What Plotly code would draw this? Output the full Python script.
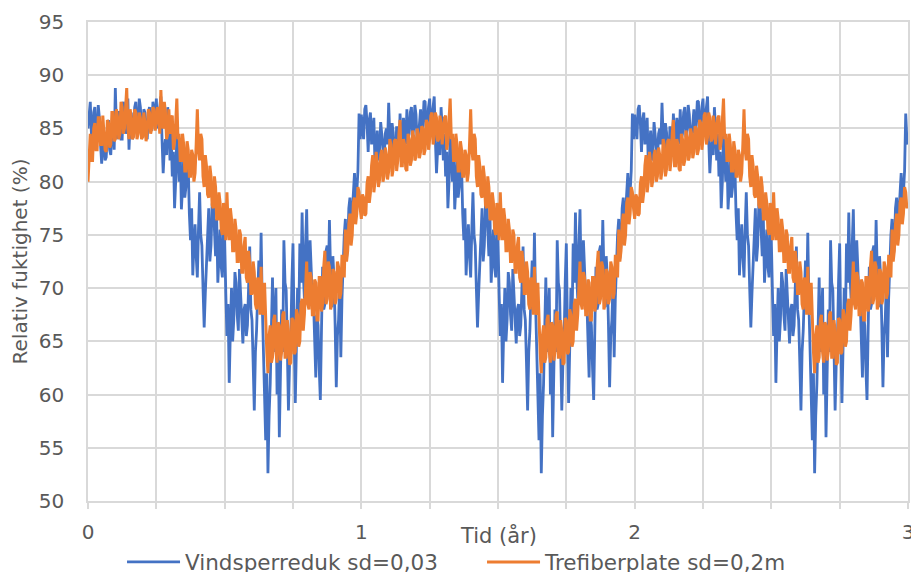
import numpy as np
import plotly.graph_objects as go

# Relative humidity (%) behind two wind-barrier products, 240 samples per year
SAMPLES_PER_YEAR = 240

vind_year1 = [
    85.0, 86.8, 87.5, 84.5, 84.0, 86.5, 87.0, 84.0, 84.5, 87.2, 86.0, 83.5, 81.7, 84.0, 83.5, 82.0, 82.3, 84.5, 85.8, 83.0,
    82.5, 85.0, 85.0, 83.0, 88.8, 85.0, 84.0, 86.5, 86.5, 84.0, 84.0, 87.5, 87.0, 84.5, 85.0, 87.8, 83.0, 85.5, 86.5, 84.0,
    84.5, 87.0, 87.5, 85.0, 85.0, 87.8, 87.0, 84.8, 84.5, 86.8, 86.5, 84.2, 84.0, 86.5, 87.0, 85.0, 84.8, 87.5, 86.8, 85.2,
    87.8, 85.0, 86.0, 87.4, 88.0, 84.0, 80.8, 83.0, 84.0, 82.5, 87.0, 85.0, 82.0, 84.5, 80.5, 82.8, 77.5, 80.0, 84.5, 82.5,
    80.0, 83.0, 77.4, 79.5, 82.2, 78.5, 79.5, 82.0, 81.5, 77.0, 74.5, 77.5, 71.2, 74.0, 76.0, 73.0, 71.0, 75.5, 79.0, 75.0,
    74.0, 70.0, 66.3, 69.5, 72.0, 75.5, 77.5, 72.5, 74.0, 77.8, 79.0, 75.5, 73.0, 76.5, 70.5, 73.0, 75.5, 72.0, 71.0, 76.0,
    74.5, 69.5, 65.5, 68.5, 61.1, 66.0, 70.0, 65.0, 67.0, 71.5, 70.5, 67.5, 66.0, 71.8, 69.5, 66.5, 64.8, 68.0, 68.5, 65.5,
    66.5, 70.0, 73.9, 68.0, 67.0, 63.0, 58.5, 64.0, 66.0, 69.5, 72.6, 68.5, 75.2, 68.5, 64.0, 60.0, 55.7, 62.0, 52.6, 58.0,
    61.0, 66.0, 71.0, 64.0, 66.5, 70.0, 60.0, 65.0, 56.0, 62.5, 68.0, 64.0, 74.5, 70.5, 69.8, 64.5, 58.5, 63.0, 65.0, 70.5,
    74.2, 66.0, 59.2, 64.5, 70.0, 66.5, 74.2, 70.5, 77.1, 71.5, 69.0, 74.0, 77.4, 71.0, 68.6, 74.5, 72.3, 69.0, 68.8, 65.0,
    61.6, 67.5, 66.5, 62.5, 59.5, 66.0, 72.0, 68.0, 68.5, 73.5, 74.0, 70.5, 76.4, 71.5, 68.2, 73.0, 71.0, 66.5, 60.7, 65.5,
    67.0, 70.5, 63.5, 69.0, 72.5, 75.0, 76.5, 72.8, 74.0, 77.5, 78.5, 75.5, 77.0, 79.5, 80.8, 78.0, 79.0, 81.0, 86.4, 84.0,
]
vind_year2 = [
    86.3, 85.0, 84.0, 86.8, 87.2, 85.5, 82.8, 85.8, 86.5, 83.5, 84.5, 86.0, 81.4, 83.2, 84.8, 82.0, 82.5, 85.6, 84.2, 83.0,
    82.0, 84.5, 85.0, 83.5, 87.4, 84.2, 83.0, 85.5, 84.6, 82.0, 82.3, 85.2, 84.0, 82.8, 86.4, 84.0, 83.2, 86.0, 84.8, 83.5,
    86.8, 84.0, 84.5, 86.5, 87.0, 84.2, 85.0, 87.2, 86.3, 83.8, 84.0, 86.0, 86.8, 84.5, 85.2, 87.6, 87.5, 84.8, 85.5, 87.0,
    87.8, 85.0, 86.0, 87.4, 88.0, 84.0, 80.8, 83.0, 84.0, 82.5, 87.0, 85.0, 82.0, 84.5, 80.5, 82.8, 77.5, 80.0, 84.5, 82.5,
    80.0, 83.0, 77.4, 79.5, 82.2, 78.5, 79.5, 82.0, 81.5, 77.0, 74.5, 77.5, 71.2, 74.0, 76.0, 73.0, 71.0, 75.5, 79.0, 75.0,
    74.0, 70.0, 66.3, 69.5, 72.0, 75.5, 77.5, 72.5, 74.0, 77.8, 79.0, 75.5, 73.0, 76.5, 70.5, 73.0, 75.5, 72.0, 71.0, 76.0,
    74.5, 69.5, 65.5, 68.5, 61.1, 66.0, 70.0, 65.0, 67.0, 71.5, 70.5, 67.5, 66.0, 71.8, 69.5, 66.5, 64.8, 68.0, 68.5, 65.5,
    66.5, 70.0, 73.9, 68.0, 67.0, 63.0, 58.5, 64.0, 66.0, 69.5, 72.6, 68.5, 75.2, 68.5, 64.0, 60.0, 55.7, 62.0, 52.6, 58.0,
    61.0, 66.0, 71.0, 64.0, 66.5, 70.0, 60.0, 65.0, 56.0, 62.5, 68.0, 64.0, 74.5, 70.5, 69.8, 64.5, 58.5, 63.0, 65.0, 70.5,
    74.2, 66.0, 59.2, 64.5, 70.0, 66.5, 74.2, 70.5, 77.1, 71.5, 69.0, 74.0, 77.4, 71.0, 68.6, 74.5, 72.3, 69.0, 68.8, 65.0,
    61.6, 67.5, 66.5, 62.5, 59.5, 66.0, 72.0, 68.0, 68.5, 73.5, 74.0, 70.5, 76.4, 71.5, 68.2, 73.0, 71.0, 66.5, 60.7, 65.5,
    67.0, 70.5, 63.5, 69.0, 72.5, 75.0, 76.5, 72.8, 74.0, 77.5, 78.5, 75.5, 77.0, 79.5, 80.8, 78.0, 79.0, 81.0, 86.4, 84.0,
]
vind_year3 = [
    86.3, 85.0, 84.0, 86.8, 87.2, 85.5, 82.8, 85.8, 86.5, 83.5, 84.5, 86.0, 81.4, 83.2, 84.8, 82.0, 82.5, 85.6, 84.2, 83.0,
    82.0, 84.5, 85.0, 83.5, 87.4, 84.2, 83.0, 85.5, 84.6, 82.0, 82.3, 85.2, 84.0, 82.8, 86.4, 84.0, 83.2, 86.0, 84.8, 83.5,
    86.8, 84.0, 84.5, 86.5, 87.0, 84.2, 85.0, 87.2, 86.3, 83.8, 84.0, 86.0, 86.8, 84.5, 85.2, 87.6, 87.5, 84.8, 85.5, 87.0,
    87.8, 85.0, 86.0, 87.4, 88.0, 84.0, 80.8, 83.0, 84.0, 82.5, 87.0, 85.0, 82.0, 84.5, 80.5, 82.8, 77.5, 80.0, 84.5, 82.5,
    80.0, 83.0, 77.4, 79.5, 82.2, 78.5, 79.5, 82.0, 81.5, 77.0, 74.5, 77.5, 71.2, 74.0, 76.0, 73.0, 71.0, 75.5, 79.0, 75.0,
    74.0, 70.0, 66.3, 69.5, 72.0, 75.5, 77.5, 72.5, 74.0, 77.8, 79.0, 75.5, 73.0, 76.5, 70.5, 73.0, 75.5, 72.0, 71.0, 76.0,
    74.5, 69.5, 65.5, 68.5, 61.1, 66.0, 70.0, 65.0, 67.0, 71.5, 70.5, 67.5, 66.0, 71.8, 69.5, 66.5, 64.8, 68.0, 68.5, 65.5,
    66.5, 70.0, 73.9, 68.0, 67.0, 63.0, 58.5, 64.0, 66.0, 69.5, 72.6, 68.5, 75.2, 68.5, 64.0, 60.0, 55.7, 62.0, 52.6, 58.0,
    61.0, 66.0, 71.0, 64.0, 66.5, 70.0, 60.0, 65.0, 56.0, 62.5, 68.0, 64.0, 74.5, 70.5, 69.8, 64.5, 58.5, 63.0, 65.0, 70.5,
    74.2, 66.0, 59.2, 64.5, 70.0, 66.5, 74.2, 70.5, 77.1, 71.5, 69.0, 74.0, 77.4, 71.0, 68.6, 74.5, 72.3, 69.0, 68.8, 65.0,
    61.6, 67.5, 66.5, 62.5, 59.5, 66.0, 72.0, 68.0, 68.5, 73.5, 74.0, 70.5, 76.4, 71.5, 68.2, 73.0, 71.0, 66.5, 60.7, 65.5,
    67.0, 70.5, 63.5, 69.0, 72.5, 75.0, 76.5, 72.8, 74.0, 77.5, 78.5, 75.5, 77.0, 79.5, 80.8, 78.0, 79.0, 81.0, 86.4, 84.0,
]
vind_final = [83.5]

tref_year1 = [
    80.0, 83.0, 84.5, 82.0, 82.0, 85.0, 85.5, 83.0, 83.0, 86.0, 86.0, 83.5, 83.5, 86.2, 85.0, 83.0, 82.8, 85.8, 85.5, 83.2,
    83.5, 86.5, 86.5, 83.8, 84.0, 86.8, 86.0, 84.0, 84.5, 87.5, 87.0, 84.5, 85.0, 87.0, 88.8, 85.0, 84.0, 86.8, 86.0, 84.0,
    84.2, 86.8, 86.5, 84.0, 84.5, 86.5, 86.0, 84.0, 84.2, 86.5, 85.5, 83.8, 84.8, 86.8, 86.5, 84.5, 85.0, 87.0, 86.8, 84.8,
    85.5, 87.0, 86.5, 84.5, 88.6, 85.5, 85.0, 87.5, 86.5, 84.0, 84.5, 86.8, 84.5, 86.0, 86.2, 83.0, 83.8, 85.5, 87.8, 84.0,
    84.5, 82.0, 82.0, 84.5, 83.5, 81.0, 81.0, 83.8, 83.0, 80.5, 80.5, 83.0, 82.5, 80.0, 80.8, 83.5, 86.8, 83.0, 82.0, 84.5,
    84.0, 80.5, 79.5, 82.5, 81.5, 78.8, 78.5, 81.5, 80.5, 77.8, 77.5, 80.5, 79.5, 76.5, 76.5, 79.0, 78.0, 75.5, 75.0, 78.0,
    77.0, 74.5, 79.0, 76.0, 74.5, 77.5, 76.5, 73.5, 73.5, 76.5, 75.5, 72.5, 72.5, 75.5, 75.0, 71.5, 71.5, 74.0, 74.8, 71.0,
    70.5, 73.5, 72.5, 69.5, 69.5, 72.5, 71.5, 68.5, 68.0, 71.0, 70.5, 67.5, 72.0, 68.0, 67.5, 70.5, 66.0, 64.0, 62.0, 65.5,
    66.5, 63.0, 63.5, 67.0, 67.5, 64.0, 63.0, 66.8, 66.5, 63.2, 64.0, 67.5, 67.8, 63.5, 63.5, 67.0, 66.0, 62.8, 63.0, 67.2,
    67.0, 63.8, 64.0, 68.0, 67.5, 64.5, 65.0, 68.5, 69.0, 66.0, 67.5, 70.5, 72.5, 68.5, 68.0, 71.5, 71.0, 67.5, 67.5, 70.8,
    70.5, 67.0, 67.0, 71.0, 71.0, 67.8, 68.5, 72.0, 73.5, 68.5, 69.0, 72.5, 72.0, 68.0, 68.5, 71.8, 71.5, 68.5, 69.0, 72.5,
    72.0, 69.0, 69.5, 73.0, 73.0, 71.0, 75.5, 72.5, 73.5, 76.0, 77.0, 74.0, 75.0, 78.0, 78.5, 76.0, 77.0, 79.5, 79.0, 77.5,
]
tref_year2 = [
    76.5, 78.8, 78.5, 76.8, 77.0, 79.8, 80.5, 78.0, 79.0, 81.5, 82.5, 79.0, 80.0, 82.8, 81.8, 79.5, 80.2, 82.5, 83.0, 80.0,
    80.5, 83.2, 82.5, 80.2, 81.0, 84.0, 83.5, 80.5, 81.2, 83.8, 84.0, 81.0, 82.0, 84.5, 85.8, 81.5, 81.5, 84.0, 83.5, 81.2,
    81.0, 84.5, 84.0, 81.5, 82.0, 84.8, 84.2, 82.0, 82.3, 85.0, 84.5, 82.2, 82.8, 85.2, 85.0, 82.5, 83.0, 85.8, 85.5, 83.0,
    84.0, 86.2, 86.5, 83.5, 84.2, 86.5, 86.0, 83.8, 84.0, 86.2, 85.5, 83.5, 84.5, 86.0, 86.2, 83.0, 83.8, 85.5, 87.8, 84.0,
    84.5, 82.0, 82.0, 84.5, 83.5, 81.0, 81.0, 83.8, 83.0, 80.5, 80.5, 83.0, 82.5, 80.0, 80.8, 83.5, 86.8, 83.0, 82.0, 84.5,
    84.0, 80.5, 79.5, 82.5, 81.5, 78.8, 78.5, 81.5, 80.5, 77.8, 77.5, 80.5, 79.5, 76.5, 76.5, 79.0, 78.0, 75.5, 75.0, 78.0,
    77.0, 74.5, 79.0, 76.0, 74.5, 77.5, 76.5, 73.5, 73.5, 76.5, 75.5, 72.5, 72.5, 75.5, 75.0, 71.5, 71.5, 74.0, 74.8, 71.0,
    70.5, 73.5, 72.5, 69.5, 69.5, 72.5, 71.5, 68.5, 68.0, 71.0, 70.5, 67.5, 72.0, 68.0, 67.5, 70.5, 66.0, 64.0, 62.0, 65.5,
    66.5, 63.0, 63.5, 67.0, 67.5, 64.0, 63.0, 66.8, 66.5, 63.2, 64.0, 67.5, 67.8, 63.5, 63.5, 67.0, 66.0, 62.8, 63.0, 67.2,
    67.0, 63.8, 64.0, 68.0, 67.5, 64.5, 65.0, 68.5, 69.0, 66.0, 67.5, 70.5, 72.5, 68.5, 68.0, 71.5, 71.0, 67.5, 67.5, 70.8,
    70.5, 67.0, 67.0, 71.0, 71.0, 67.8, 68.5, 72.0, 73.5, 68.5, 69.0, 72.5, 72.0, 68.0, 68.5, 71.8, 71.5, 68.5, 69.0, 72.5,
    72.0, 69.0, 69.5, 73.0, 73.0, 71.0, 75.5, 72.5, 73.5, 76.0, 77.0, 74.0, 75.0, 78.0, 78.5, 76.0, 77.0, 79.5, 79.0, 77.5,
]
tref_year3 = [
    76.5, 78.8, 78.5, 76.8, 77.0, 79.8, 80.5, 78.0, 79.0, 81.5, 82.5, 79.0, 80.0, 82.8, 81.8, 79.5, 80.2, 82.5, 83.0, 80.0,
    80.5, 83.2, 82.5, 80.2, 81.0, 84.0, 83.5, 80.5, 81.2, 83.8, 84.0, 81.0, 82.0, 84.5, 85.8, 81.5, 81.5, 84.0, 83.5, 81.2,
    81.0, 84.5, 84.0, 81.5, 82.0, 84.8, 84.2, 82.0, 82.3, 85.0, 84.5, 82.2, 82.8, 85.2, 85.0, 82.5, 83.0, 85.8, 85.5, 83.0,
    84.0, 86.2, 86.5, 83.5, 84.2, 86.5, 86.0, 83.8, 84.0, 86.2, 85.5, 83.5, 84.5, 86.0, 86.2, 83.0, 83.8, 85.5, 87.8, 84.0,
    84.5, 82.0, 82.0, 84.5, 83.5, 81.0, 81.0, 83.8, 83.0, 80.5, 80.5, 83.0, 82.5, 80.0, 80.8, 83.5, 86.8, 83.0, 82.0, 84.5,
    84.0, 80.5, 79.5, 82.5, 81.5, 78.8, 78.5, 81.5, 80.5, 77.8, 77.5, 80.5, 79.5, 76.5, 76.5, 79.0, 78.0, 75.5, 75.0, 78.0,
    77.0, 74.5, 79.0, 76.0, 74.5, 77.5, 76.5, 73.5, 73.5, 76.5, 75.5, 72.5, 72.5, 75.5, 75.0, 71.5, 71.5, 74.0, 74.8, 71.0,
    70.5, 73.5, 72.5, 69.5, 69.5, 72.5, 71.5, 68.5, 68.0, 71.0, 70.5, 67.5, 72.0, 68.0, 67.5, 70.5, 66.0, 64.0, 62.0, 65.5,
    66.5, 63.0, 63.5, 67.0, 67.5, 64.0, 63.0, 66.8, 66.5, 63.2, 64.0, 67.5, 67.8, 63.5, 63.5, 67.0, 66.0, 62.8, 63.0, 67.2,
    67.0, 63.8, 64.0, 68.0, 67.5, 64.5, 65.0, 68.5, 69.0, 66.0, 67.5, 70.5, 72.5, 68.5, 68.0, 71.5, 71.0, 67.5, 67.5, 70.8,
    70.5, 67.0, 67.0, 71.0, 71.0, 67.8, 68.5, 72.0, 73.5, 68.5, 69.0, 72.5, 72.0, 68.0, 68.5, 71.8, 71.5, 68.5, 69.0, 72.5,
    72.0, 69.0, 69.5, 73.0, 73.0, 71.0, 75.5, 72.5, 73.5, 76.0, 77.0, 74.0, 75.0, 78.0, 78.5, 76.0, 77.0, 79.5, 79.0, 77.5,
]
tref_final = [78.0]

series_names = ["Vindsperreduk sd=0,03", "Trefiberplate sd=0,2m"]
series_colors = ["#4472C4", "#ED7D31"]
series_widths = [2.8, 3.0]

x_tick_vals = [0, 0.25, 0.5, 0.75, 1, 1.25, 1.5, 1.75, 2, 2.25, 2.5, 2.75, 3]
x_tick_text = ["0", "", "", "", "1", "", "", "", "2", "", "", "", "3"]
y_tick_vals = [50, 55, 60, 65, 70, 75, 80, 85, 90, 95]

vind = vind_year1 + vind_year2 + vind_year3 + vind_final
tref = tref_year1 + tref_year2 + tref_year3 + tref_final
time_years = np.arange(len(vind)) / SAMPLES_PER_YEAR

FONT = "DejaVu Sans"
GREY_TEXT = "#595959"
GRID = "#d9d9d9"

fig = go.Figure()
for values, name, color, width in zip([vind, tref], series_names, series_colors, series_widths):
    fig.add_trace(go.Scatter(
        x=time_years, y=values, mode="lines", name=name,
        line=dict(color=color, width=width),
    ))

fig.update_layout(
    width=911, height=572,
    margin=dict(l=88, r=3, t=22, b=71, autoexpand=False),
    paper_bgcolor="white", plot_bgcolor="white",
    font=dict(family=FONT, color=GREY_TEXT, size=20),
    showlegend=True,
    legend=dict(
        orientation="h", x=0.0415, xanchor="left", y=-0.1273, yanchor="middle",
        font=dict(family=FONT, size=21.5, color=GREY_TEXT),
        itemwidth=53, entrywidth=292, entrywidthmode="pixels",
        bgcolor="rgba(0,0,0,0)",
    ),
    xaxis=dict(
        range=[0, 3], tickmode="array", tickvals=x_tick_vals, ticktext=x_tick_text,
        showgrid=True, gridcolor=GRID, gridwidth=1.5,
        showline=True, linecolor=GRID, linewidth=1.5, mirror=True,
        ticks="outside", ticklen=6, tickcolor=GRID, tickwidth=1.5,
        ticklabelstandoff=6, ticklabeloverflow="allow", zeroline=False,
        tickfont=dict(family=FONT, size=20, color=GREY_TEXT),
    ),
    yaxis=dict(
        range=[50, 95], tickmode="array", tickvals=y_tick_vals,
        showgrid=True, gridcolor=GRID, gridwidth=1.5,
        showline=True, linecolor=GRID, linewidth=1.5, mirror=True,
        ticks="", ticklabelstandoff=18, zeroline=False,
        tickfont=dict(family=FONT, size=20, color=GREY_TEXT),
        title=dict(text="Relativ fuktighet (%)", standoff=6,
                   font=dict(family=FONT, size=20, color=GREY_TEXT)),
    ),
)

fig.add_annotation(
    text="Tid (år)", xref="paper", yref="paper", x=0.5, y=-0.071,
    xanchor="center", yanchor="middle", showarrow=False,
    font=dict(family=FONT, size=21, color=GREY_TEXT),
)

fig.write_html("out.html")
